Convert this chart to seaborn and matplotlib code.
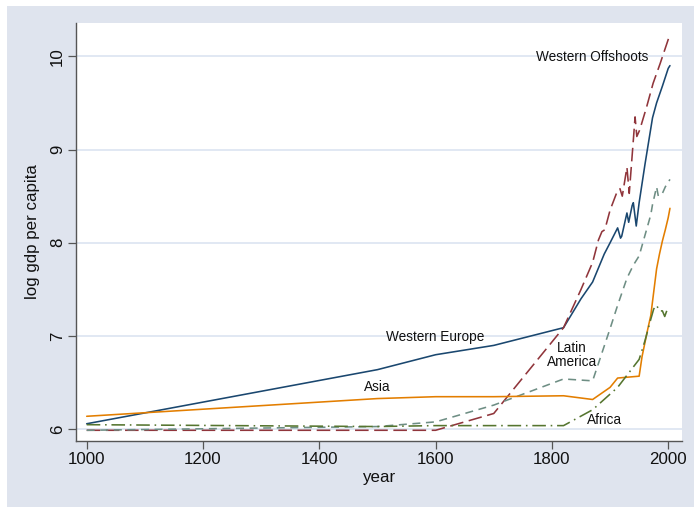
import matplotlib
matplotlib.use("Agg")
import matplotlib.pyplot as plt
import seaborn as sns
import pandas as pd
from matplotlib.patches import Rectangle

# ---- data ----
we_years = [1000, 1500, 1600, 1700, 1820, 1850, 1870, 1890, 1900, 1913, 1918, 1920,
            1929, 1932, 1938, 1940, 1945, 1950, 1960, 1973, 1980, 1990, 2000, 2003]
we_vals = [6.06, 6.64, 6.80, 6.90, 7.09, 7.40, 7.58, 7.88, 8.00, 8.16, 8.05, 8.07,
           8.32, 8.22, 8.40, 8.43, 8.18, 8.43, 8.84, 9.34, 9.50, 9.68, 9.87, 9.90]

wo_years = [1000, 1500, 1600, 1700, 1820, 1850, 1870, 1880, 1886, 1891, 1900, 1911,
            1917, 1921, 1929, 1933, 1940, 1943, 1946, 1951, 1963, 1974, 1986, 2000, 2003]
wo_vals = [5.99, 5.99, 5.99, 6.17, 7.09, 7.50, 7.79, 8.03, 8.12, 8.14, 8.35, 8.53,
           8.58, 8.50, 8.81, 8.53, 9.10, 9.35, 9.14, 9.21, 9.46, 9.71, 9.92, 10.18, 10.24]

la_years = [1000, 1500, 1600, 1700, 1820, 1870, 1900, 1913, 1929, 1940, 1950, 1960,
            1970, 1973, 1980, 1983, 1990, 1995, 2000, 2003]
la_vals = [5.99, 6.03, 6.08, 6.26, 6.54, 6.52, 7.08, 7.33, 7.62, 7.76, 7.86, 8.08,
           8.30, 8.41, 8.60, 8.50, 8.53, 8.60, 8.65, 8.68]

as_years = [1000, 1500, 1600, 1700, 1820, 1870, 1900, 1913, 1950, 1955, 1960, 1965,
            1970, 1975, 1980, 1985, 1990, 1995, 2000, 2003]
as_vals = [6.14, 6.33, 6.35, 6.35, 6.36, 6.32, 6.45, 6.55, 6.57, 6.78, 6.93, 7.08,
           7.22, 7.47, 7.72, 7.88, 8.02, 8.14, 8.27, 8.37]

af_years = [1000, 1500, 1600, 1700, 1820, 1870, 1913, 1950, 1960, 1970, 1975, 1980,
            1985, 1990, 1994, 1998, 2001]
af_vals = [6.05, 6.03, 6.04, 6.04, 6.04, 6.21, 6.45, 6.75, 6.95, 7.18, 7.29, 7.33,
           7.27, 7.27, 7.21, 7.28, 7.30]

x_ticks = [1000, 1200, 1400, 1600, 1800, 2000]
y_ticks = [6, 7, 8, 9, 10]

series = [
    ("Western Europe", we_years, we_vals, "#1a476f", (None, None)),
    ("Western Offshoots", wo_years, wo_vals, "#90353b", (8.5, 3.5)),
    ("Latin America", la_years, la_vals, "#6e8e84", (5, 3.5)),
    ("Asia", as_years, as_vals, "#e37e00", (None, None)),
    ("Africa", af_years, af_vals, "#55752f", (8.5, 3, 1, 3)),
]

sns.set_theme(style="white")
plt.rcParams["font.family"] = ["Liberation Sans", "DejaVu Sans"]

fig = plt.figure(figsize=(6.94, 5.07), dpi=100)
fig.patch.set_facecolor("white")
bg = Rectangle((7 / 694, 0), 1 - 7 / 694, 1 - 6 / 507, transform=fig.transFigure,
               facecolor="#dfe4ee", edgecolor="none", zorder=-10)
fig.patches.append(bg)

ax = fig.add_axes([76 / 694, 1 - 441 / 507, (682 - 76) / 694, (441 - 22.7) / 507])
ax.set_facecolor("white")

for name, yrs, vals, col, dash in series:
    df = pd.DataFrame({"year": yrs, "lgdp": vals})
    sns.lineplot(data=df, x="year", y="lgdp", ax=ax, color=col, linewidth=1.15,
                 estimator=None, sort=True, legend=False)
# apply dash patterns
for ln, (name, yrs, vals, col, dash) in zip(ax.lines, series):
    if dash[0] is not None:
        ln.set_dashes(dash)

ax.set_xlim(981.6, 2023.7)
ax.set_ylim(5.875, 10.36)
ax.set_xticks(x_ticks)
ax.set_yticks(y_ticks)
ax.yaxis.grid(True, color="#d9e2f0", linewidth=1.1)
ax.set_axisbelow(True)

for s in ["top", "right"]:
    ax.spines[s].set_visible(False)
for s in ["left", "bottom"]:
    ax.spines[s].set_color("#555555")
    ax.spines[s].set_linewidth(1.0)

ax.tick_params(axis="both", which="major", direction="out", length=5.5, width=0.9,
               color="#555555", labelsize=12.2, labelcolor="#111111", left=True, bottom=True)
ax.tick_params(axis="x", pad=2.5)
ax.tick_params(axis="y", pad=2.5)
for t in ax.get_yticklabels():
    t.set_rotation(90)
    t.set_va("center")

ax.set_xlabel("year", fontsize=12.2, color="#111111", labelpad=2)
ax.set_ylabel("log gdp per capita", fontsize=12.2, color="#111111", labelpad=7)

lab_kw = dict(fontsize=9.8, color="#111111", ha="center", va="center")
ax.text(1869.8, 9.99, "Western Offshoots", **lab_kw)
ax.text(1599.8, 6.99, "Western Europe", **lab_kw)
ax.text(1499.8, 6.45, "Asia", **lab_kw)
ax.text(1834.6, 6.80, "Latin\nAmerica", linespacing=1.0, **lab_kw)
ax.text(1889.9, 6.10, "Africa", **lab_kw)

fig.savefig("out.png", dpi=100, facecolor=fig.get_facecolor())
